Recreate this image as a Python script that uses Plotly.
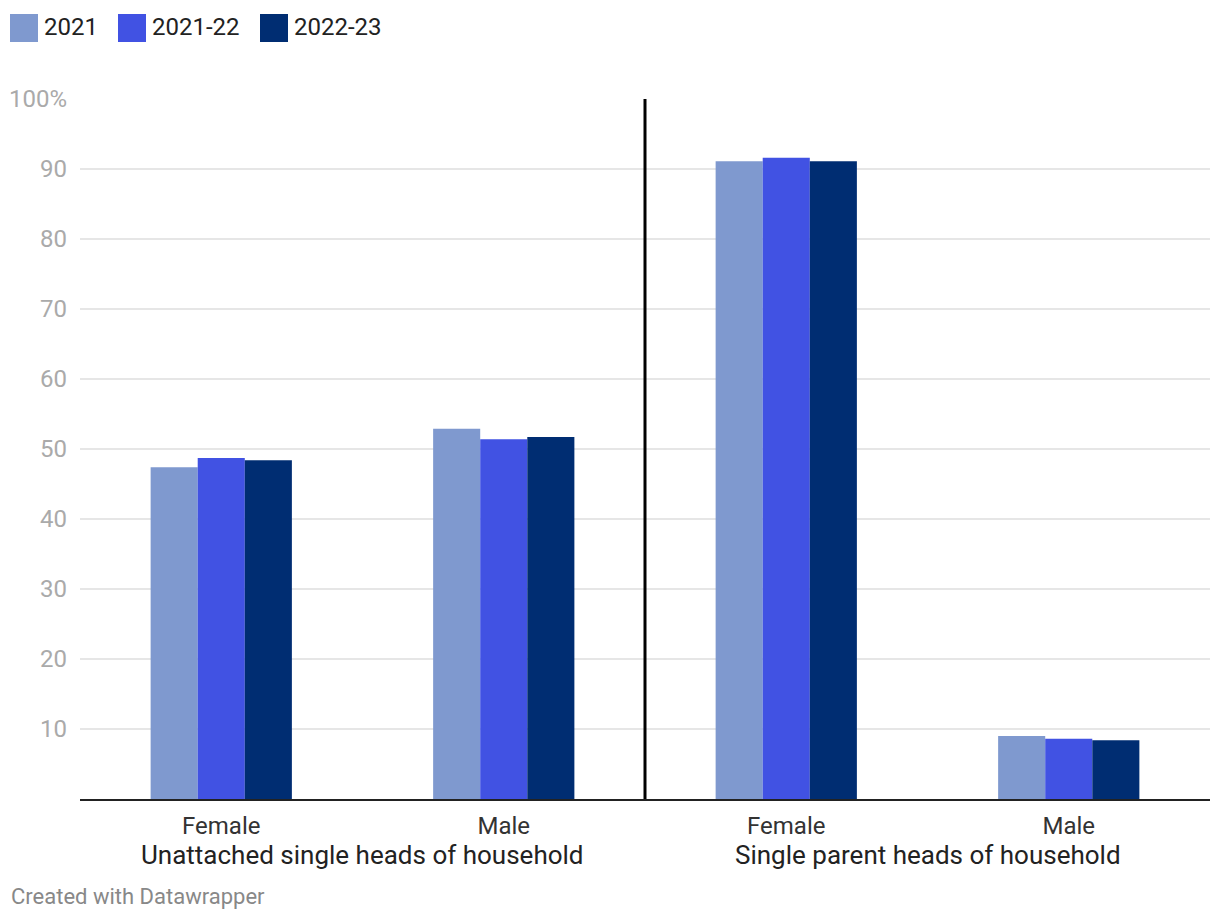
import plotly.graph_objects as go

categories = ["Female", "Male", "Female", "Male"]
groups = ["Unattached single heads of household", "Single parent heads of household"]
series_names = ["2021", "2021-22", "2022-23"]
values_2021 = [47.4, 52.9, 91.1, 9.0]
values_2021_22 = [48.7, 51.4, 91.6, 8.6]
values_2022_23 = [48.4, 51.7, 91.1, 8.4]
colors = ["#7f99cf", "#4152e3", "#002d72"]
y_ticks = [10, 20, 30, 40, 50, 60, 70, 80, 90, 100]
y_ticktext = ["10", "20", "30", "40", "50", "60", "70", "80", "90", "100%"]

xpos = list(range(len(categories)))
fig = go.Figure()
for name, vals, col in zip(series_names, [values_2021, values_2021_22, values_2022_23], colors):
    fig.add_trace(go.Bar(x=xpos, y=vals, name=name, marker=dict(color=col, line=dict(width=0)),
                         showlegend=False))

W, H = 1220, 922
L, R, T, B = 80, 10, 99, 123
pw, ph = W - L - R, H - T - B

def px_x(p):
    return (p - L) / pw

def px_y(p):
    return (H - B - p) / ph

shapes = []
annotations = []
# custom legend
leg_x = [10, 118, 260]
for nm, col, lx in zip(series_names, colors, leg_x):
    shapes.append(dict(type="rect", xref="paper", yref="paper",
                       x0=px_x(lx), x1=px_x(lx + 28), y0=px_y(42), y1=px_y(14),
                       fillcolor=col, line=dict(width=0)))
    annotations.append(dict(xref="paper", yref="paper", x=px_x(lx + 32), y=px_y(27),
                            text=nm, showarrow=False, xanchor="left", yanchor="middle",
                            font=dict(size=24, color="#222222")))
# separator line
shapes.append(dict(type="line", xref="x", yref="paper", x0=1.5, x1=1.5, y0=0, y1=1,
                   line=dict(color="#000000", width=3)))
# group labels
for i, g in enumerate(groups):
    annotations.append(dict(xref="x", yref="paper", x=2 * i + 0.5, y=px_y(855),
                            text=g, showarrow=False, xanchor="center", yanchor="middle",
                            font=dict(size=26, color="#222222")))
annotations.append(dict(xref="paper", yref="paper", x=px_x(9), y=px_y(896),
                        text="Created with Datawrapper", showarrow=False,
                        xanchor="left", yanchor="middle",
                        font=dict(size=22, color="#888888")))

fig.update_layout(
    width=W, height=H,
    margin=dict(l=L, r=R, t=T, b=B, autoexpand=False),
    paper_bgcolor="white", plot_bgcolor="white",
    font=dict(family="Roboto", color="#333333"),
    barmode="group", bargap=0.5, bargroupgap=0,
    shapes=shapes, annotations=annotations,
    xaxis=dict(range=[-0.5, 3.5], tickvals=xpos, ticktext=categories,
               tickfont=dict(size=24, color="#333333"), showgrid=False,
               showline=True, linecolor="#222222", linewidth=2, ticks="",
               zeroline=False, ticklabelstandoff=4),
    yaxis=dict(range=[0, 100], tickvals=y_ticks, ticktext=y_ticktext,
               tickfont=dict(size=24, color="#aaaaaa"), showgrid=True,
               gridcolor="#e6e6e6", gridwidth=2, zeroline=False, showline=False,
               ticks="", ticklabelstandoff=12),
)

fig.write_html("out.html")
